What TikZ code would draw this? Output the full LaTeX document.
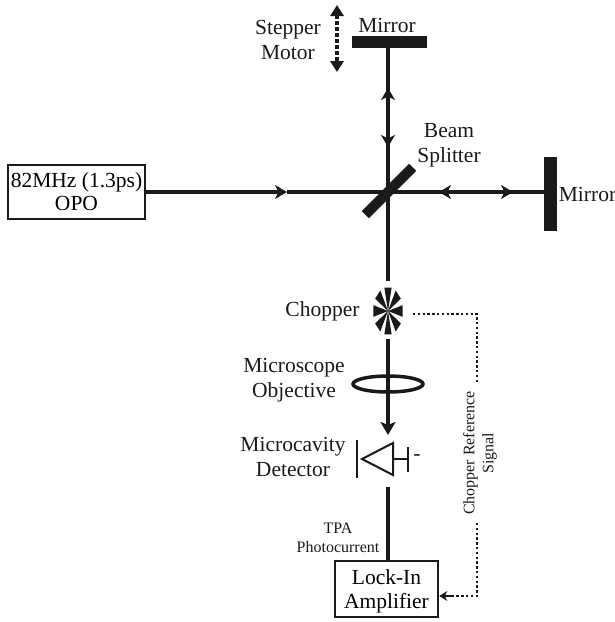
\documentclass[tikz,border=0pt]{standalone}
\usepackage{fontspec}
\setmainfont{Liberation Serif}
\usetikzlibrary{arrows.meta,positioning,calc,shapes.geometric}
\definecolor{ink}{HTML}{1A1A1A}
\tikzset{
  beam/.style={draw=ink,line width=4pt},
  beamtip/.style={beam,-{Stealth[length=12pt,width=14pt,inset=3.5pt]}},
  plate/.style={draw=none,fill=ink,inner sep=0pt},
  thinbox/.style={draw=ink,line width=1.2pt,fill=white,inner sep=0pt,align=center,font=\fontsize{21.5}{23}\selectfont},
  ampbox/.style={thinbox,line width=2.6pt,font=\fontsize{21.5}{24}\selectfont},
  lab/.style={inner sep=0pt,align=center,font=\fontsize{21.5}{24.5}\selectfont,text=ink},
  smalllab/.style={inner sep=0pt,align=center,font=\fontsize{16}{19}\selectfont,text=ink},
  signal/.style={draw=ink,line width=2.4pt,dash pattern=on 2.4pt off 2.4pt},
  detline/.style={draw=ink,line width=2pt},
}
\begin{document}
\begin{tikzpicture}[x=1pt,y=-1pt]
  \useasboundingbox (0,0) rectangle (615,622);
  % ---- source and the two mirrors ----
  \node[thinbox,minimum width=137pt,minimum height=54pt] (opo) at (76.5,192) {82MHz (1.3ps)\\OPO};
  \node[plate,minimum width=75pt,minimum height=12pt] (mirtop) at (389.5,42) {};
  \node[plate,minimum width=13pt,minimum height=74pt] (mirright) at (550.5,194) {};
  \node[plate,minimum width=67pt,minimum height=10pt,rotate=45] (bs) at (389,191) {};
  \coordinate (c) at (388,192);
  \node[lab] (mirtoplab) at (387,25) {Mirror};
  \node[lab] (mirrightlab) at (587.5,194) {Mirror};
  \node[lab] (bslab) at (449,145) {Beam\\Splitter};
  \node[lab] (stepperlab) at (288,40) {Stepper\\Motor};
  % ---- interferometer arms ----
  \coordinate (t1) at (287,192);
  \coordinate (t2) at (439,192);
  \coordinate (t3) at (513,192);
  \coordinate (t4) at (388,88);
  \coordinate (t5) at (388,147);
  \draw[beamtip] (opo.east) -- (t1);
  \draw[beam] (t1) -- (c);
  \draw[beamtip] (c -| mirright.west) -- (t2);
  \draw[beam] (t2) -- (c);
  \draw[beamtip] (c) -- (t3);
  \draw[beamtip] (c) -- (t4);
  \draw[beam] (t4) -- (c |- mirtop.south);
  \draw[beamtip] (c |- mirtop.south) -- (t5);
  % ---- stepper motion ----
  \coordinate (su) at (337,5);
  \coordinate (sd) at (337,72);
  \draw[draw=ink,line width=4.4pt,dash pattern=on 3.5pt off 2.5pt,{Stealth[length=11pt,width=13pt,inset=0pt]}-{Stealth[length=11pt,width=13pt,inset=0pt]}] (su) -- (sd);
  % ---- chopper ----
  \coordinate (chop) at (388,311);
  \foreach \a in {0,45,...,315}
    \fill[ink] (chop) -- ($(chop)+(\a-14:15 and 24)$) -- ($(chop)+(\a+14:15 and 24)$) -- cycle;
  \node[lab] (choplab) at (322.5,311) {Chopper};
  \coordinate (bsout) at (388,281);
  \draw[beam] (c) -- (bsout);
  % ---- objective and detector ----
  \coordinate (chopout) at (388,339);
  \coordinate (dettip) at (388,435);
  \draw[beam,-{Stealth[length=13pt,width=15pt,inset=3pt]}] (chopout) -- (dettip);
  \node[draw=ink,line width=3.5pt,fill=none,ellipse,minimum width=70pt,minimum height=16pt,inner sep=0pt] (lens) at (388,384) {};
  \node[lab] (lenslab) at (294,380) {Microscope\\Objective};
  \coordinate (dbt) at (357,440);
  \coordinate (dbb) at (357,478);
  \draw[detline] (dbt) -- (dbb);
  \coordinate (da) at (362,459);
  \coordinate (db) at (393,443);
  \coordinate (dc) at (393,475);
  \draw[detline,line join=miter] (da) -- (db) -- (dc) -- cycle;
  \coordinate (dk) at (393,459);
  \coordinate (dl) at (408,459);
  \coordinate (dm) at (408,447);
  \coordinate (dn) at (408,472);
  \draw[detline] (dk) -- (dl);
  \draw[detline] (dm) -- (dn);
  \node[lab] (minuslab) at (417,458) {-};
  \node[lab] (detlab) at (293,457) {Microcavity\\Detector};
  % ---- lock-in ----
  \node[ampbox,minimum width=103pt,minimum height=56pt] (amp) at (386.5,589) {\rule{0pt}{20pt}Lock-In\\Amplifier};
  \coordinate (photo) at (388,487);
  \draw[beam] (photo) -- (photo |- amp.north);
  \node[smalllab] (photolab) at (338,538) {TPA\\Photocurrent};
  % ---- reference signal ----
  \coordinate (sa) at (413,314);
  \coordinate (sb) at (477,314);
  \coordinate (sc) at (477,383);
  \coordinate (sd2) at (477,523);
  \coordinate (se) at (477,596);
  \coordinate (sf) at (452,596);
  \draw[signal] (sa) -- (sb) -- (sc);
  \draw[signal] (sd2) -- (se) -- (sf);
  \draw[draw=ink,line width=2.4pt,-{Stealth[length=8pt,width=10pt,inset=2.5pt]}] (sf) -- (amp.east |- se);
  \node[smalllab,rotate=90] (reflab) at (480,453) {Chopper Reference\\Signal};
\end{tikzpicture}
\end{document}
